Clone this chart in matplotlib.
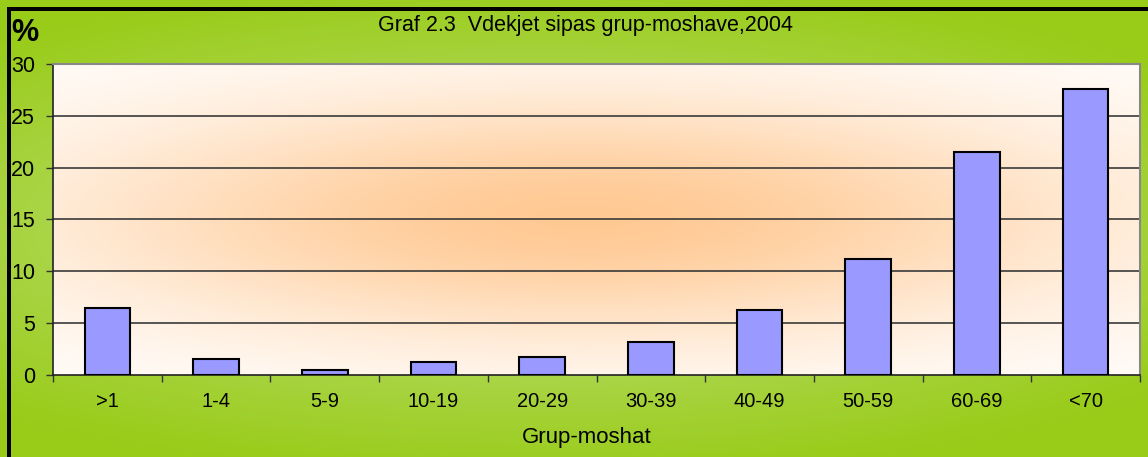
import numpy as np
import matplotlib
matplotlib.use("Agg")
import matplotlib.pyplot as plt
from matplotlib.patches import Rectangle

categories = [">1", "1-4", "5-9", "10-19", "20-29", "30-39", "40-49", "50-59", "60-69", "<70"]
values = [6.5, 1.5, 0.5, 1.3, 1.7, 3.2, 6.3, 11.2, 21.5, 27.6]
yticks = [0, 5, 10, 15, 20, 25, 30]
title = "Graf 2.3  Vdekjet sipas grup-moshave,2004"
xlabel = "Grup-moshat"
ylabel = "%"

W, H = 1148, 457
fig = plt.figure(figsize=(W / 100, H / 100), dpi=100)
fig.patch.set_facecolor("white")

# green background gradient
bg = fig.add_axes([0, 0, 1, 1], zorder=-2)
bg.set_axis_off()
yy, xx = np.mgrid[0:H, 0:W]
r = np.sqrt(((xx - 540) / 820.0) ** 2 + ((yy - 228) / 250.0) ** 2)
t = np.clip(1 - r, 0, 1) ** 1.1
dark = np.array([0.60, 0.80, 0.10])
light = np.array([0.78, 0.89, 0.58])
img = dark[None, None, :] * (1 - t[..., None]) + light[None, None, :] * t[..., None]
bg.imshow(img, extent=[0, W, H, 0], aspect="auto", interpolation="bilinear")
bg.set_xlim(0, W)
bg.set_ylim(H, 0)
# black border left/top
bg.add_patch(Rectangle((7, 7), 4, H, color="black", lw=0))
bg.add_patch(Rectangle((7, 7), W, 3.5, color="black", lw=0))

L, R, T, B = 53, 1140, 64, 375
ax = fig.add_axes([L / W, (H - B) / H, (R - L) / W, (B - T) / H])
ax.set_facecolor("none")
n = len(categories)
x = np.arange(n)
ax.set_xlim(-0.5, n - 0.5)
ax.set_ylim(0, 30)

# orange glow inside plot area
ph, pw = 200, 600
gy, gx = np.mgrid[0:ph, 0:pw]
gxp = gx / (pw - 1) * (R - L) + L
gyp = gy / (ph - 1) * (B - T) + T
rr = ((gxp - 585) / 540.0) ** 2 + ((gyp - 218) / 125.0) ** 2
g = np.exp(-rr)
white = np.array([1.0, 1.0, 1.0])
orange = np.array([1.0, 0.79, 0.58])
gimg = white[None, None, :] * (1 - g[..., None]) + orange[None, None, :] * g[..., None]
ax.imshow(gimg, extent=[-0.5, n - 0.5, 0, 30], aspect="auto", zorder=0, interpolation="bilinear")

for yv in yticks[1:-1]:
    ax.axhline(yv, color="#3a3a3a", lw=1.2, zorder=1)

ax.bar(x, values, width=0.42, color="#9999FF", edgecolor="black", linewidth=1.5, zorder=3)

ax.set_yticks(yticks)
ax.set_yticklabels([str(v) for v in yticks], fontsize=15.5, family="Liberation Sans")
ax.set_xticks(x)
ax.set_xticklabels(categories, fontsize=14.5, family="Liberation Sans")
ax.set_xticks(np.arange(n + 1) - 0.5, minor=True)
ax.tick_params(axis="x", which="major", length=0, pad=12)
ax.tick_params(axis="x", which="minor", length=5, width=1, color="#333333", direction="out")
ax.tick_params(axis="y", length=5, width=1, direction="out", pad=8, color="#333333")
for s in ["left", "bottom"]:
    ax.spines[s].set_color("#222222")
    ax.spines[s].set_linewidth(1.2)
for s in ["top", "right"]:
    ax.spines[s].set_color("#888888")
    ax.spines[s].set_linewidth(1.5)

fig.text(585 / W, 1 - 25 / H, title, ha="center", va="center", fontsize=15.5, family="Liberation Sans")
fig.text(587 / W, 1 - 438 / H, xlabel, ha="center", va="center", fontsize=16, family="Liberation Sans")
fig.text(11 / W, 1 - 33 / H, ylabel, ha="left", va="center", fontsize=22, fontweight="bold", family="Liberation Sans")

fig.savefig("out.png", dpi=100)
